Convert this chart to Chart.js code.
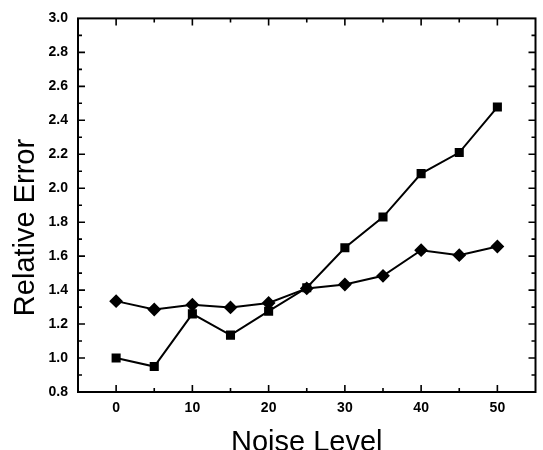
<!DOCTYPE html>
<html>
<head>
<meta charset="utf-8">
<script src="https://cdn.jsdelivr.net/npm/chart.js@4"></script>
<style>
  html, body { margin: 0; padding: 0; background: #fff; }
  #wrap { width: 543px; height: 450px; }
</style>
</head>
<body>
<div id="wrap"><canvas id="grafica"></canvas></div>
<script>
// datos
var nivelRuido = [0, 5, 10, 15, 20, 25, 30, 35, 40, 45, 50];
var errorCuadros = [1.00, 0.95, 1.26, 1.135, 1.276, 1.414, 1.649, 1.83, 2.086, 2.21, 2.478];
var errorRombos = [1.335, 1.286, 1.314, 1.298, 1.324, 1.41, 1.433, 1.484, 1.635, 1.606, 1.657];
var ticksX = [0, 10, 20, 30, 40, 50];
var tituloX = 'Noise Level';
var tituloY = 'Relative Error';

function aPuntos(ys) {
    return nivelRuido.map(function (x, i) { return { x: x, y: ys[i] }; });
}

// marco y ticks hacia dentro en los cuatro lados, mas titulos de ejes
var marcoPlugin = {
    id: 'marco',
    afterDraw: function (chart) {
        var ctx = chart.ctx;
        var a = chart.chartArea;
        var sx = chart.scales.x, sy = chart.scales.y;
        ctx.save();
        ctx.strokeStyle = '#000';
        ctx.lineWidth = 2;
        ctx.strokeRect(a.left, a.top, a.right - a.left, a.bottom - a.top);

        ctx.lineWidth = 1.6;
        ctx.beginPath();
        for (var v = 0; v <= 50; v += 5) {
            var px = sx.getPixelForValue(v);
            var len = (v % 10 === 0) ? 7 : 4;
            ctx.moveTo(px, a.bottom); ctx.lineTo(px, a.bottom - len);
            ctx.moveTo(px, a.top); ctx.lineTo(px, a.top + len);
        }
        for (var k = 9; k <= 29; k++) {
            var val = k / 10;
            var py = sy.getPixelForValue(val);
            var l = (k % 2 === 0) ? 7 : 4;
            ctx.moveTo(a.left, py); ctx.lineTo(a.left + l, py);
            ctx.moveTo(a.right, py); ctx.lineTo(a.right - l, py);
        }
        ctx.stroke();

        ctx.fillStyle = '#000';
        ctx.font = '29px "Liberation Sans", Arial, sans-serif';
        ctx.textAlign = 'center';
        ctx.textBaseline = 'alphabetic';
        ctx.fillText(tituloX, (a.left + a.right) / 2, 451);
        ctx.translate(33.5, 227.5);
        ctx.rotate(-Math.PI / 2);
        ctx.fillText(tituloY, 0, 0);
        ctx.restore();
    }
};

var fuenteTicks = { family: '"Liberation Sans", Arial, sans-serif', size: 14, weight: 'bold' };

var ctx = document.getElementById('grafica').getContext('2d');
var grafica = new Chart(ctx, {
    type: 'line',
    data: {
        datasets: [{
            label: 'cuadros',
            data: aPuntos(errorCuadros),
            borderColor: '#000',
            backgroundColor: '#000',
            borderWidth: 2,
            pointStyle: 'rect',
            pointRadius: 5,
            pointHoverRadius: 5,
            tension: 0
        }, {
            label: 'rombos',
            data: aPuntos(errorRombos),
            borderColor: '#000',
            backgroundColor: '#000',
            borderWidth: 2,
            pointStyle: 'rectRot',
            pointRadius: 5.5,
            pointHoverRadius: 5.5,
            tension: 0
        }]
    },
    options: {
        responsive: true,
        maintainAspectRatio: false,
        animation: false,
        layout: { padding: { top: 18, right: 1, left: 0, bottom: 0 } },
        plugins: {
            legend: { display: false },
            tooltip: { enabled: false }
        },
        scales: {
            x: {
                type: 'linear',
                min: -5,
                max: 55,
                afterFit: function (s) { s.height = 58; },
                afterBuildTicks: function (s) {
                    s.ticks = ticksX.map(function (v) { return { value: v }; });
                },
                grid: { display: false, drawTicks: false },
                border: { display: false },
                ticks: {
                    padding: 8,
                    color: '#000',
                    font: fuenteTicks,
                    maxRotation: 0
                }
            },
            y: {
                min: 0.8,
                max: 3.0,
                afterFit: function (s) { s.width = 78; },
                grid: { display: false, drawTicks: false },
                border: { display: false },
                ticks: {
                    stepSize: 0.2,
                    padding: 10,
                    color: '#000',
                    font: fuenteTicks,
                    callback: function (v) { return Number(v).toFixed(1); }
                }
            }
        }
    },
    plugins: [marcoPlugin]
});
</script>
</body>
</html>
